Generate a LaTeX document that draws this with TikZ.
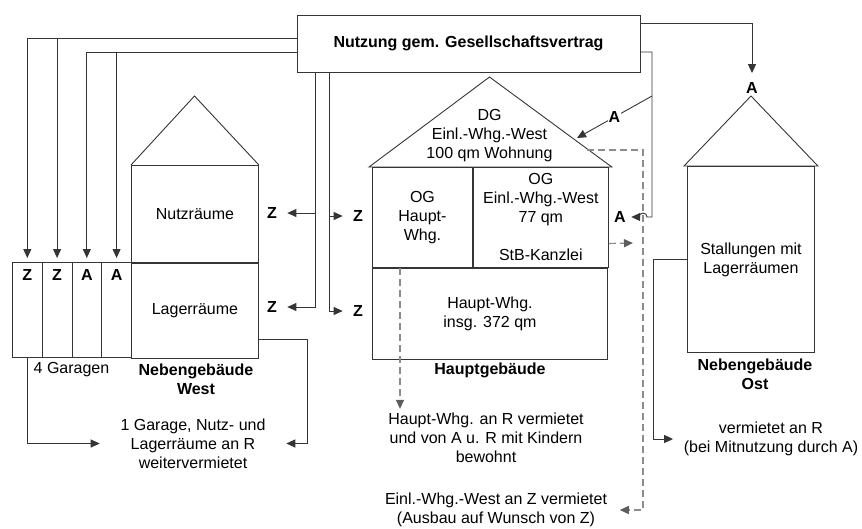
\documentclass[tikz,border=0pt]{standalone}
\usepackage{fontspec}
\setmainfont{Liberation Sans}
\usetikzlibrary{arrows.meta}
\definecolor{linie}{HTML}{353535}
\definecolor{strich}{HTML}{8C8C8C}
\newcommand\schrift{\fontsize{16}{19}\selectfont}

\begin{document}
\begin{tikzpicture}[x=1pt,y=-1pt,line width=0.9pt,font=\schrift,
  raum/.style={draw=linie,rectangle,inner sep=0pt,align=center},
  marke/.style={font=\schrift\bfseries,inner sep=2pt},
  pfeil/.style={draw=linie,-{Triangle[length=9pt,width=8pt]}},
  spfeil/.style={draw=strich,line width=1.2pt,dash pattern=on 7pt off 4pt,-{Triangle[length=9pt,width=8pt,color=linie!80]}}]
\useasboundingbox (0,0) rectangle (862,528);

% Vertrag box at the top
\node[raum,minimum width=343pt,minimum height=57pt,font=\schrift\bfseries] (vertrag) at (468.5,43.5) {Nutzung gem. Gesellschaftsvertrag};

% Four garages with their users
\foreach \i/\t in {1/Z,2/Z,3/A,4/A} {
  \node[raum,minimum width=29.75pt,minimum height=95pt,anchor=north west] (g\i) at ({12+(\i-1)*29.75},262) {};
  \node[marke] (gl\i) at ([yshift=-13pt]g\i.north) {\t};
}
\draw[pfeil] ([yshift=5.5pt]vertrag.west) -| ([yshift=4pt]g1.north);
\draw[pfeil] ([yshift=5.5pt]vertrag.west) -| ([yshift=4pt]g2.north);
\draw[pfeil] ([yshift=-8.5pt]vertrag.west) -| ([yshift=4pt]g3.north);
\draw[pfeil] ([yshift=-8.5pt]vertrag.west) -| ([yshift=4pt]g4.north);
\node (garagen) at (71.5,370) {4 Garagen};

% Nebengebaeude West
\node[raum,minimum width=127pt,minimum height=97pt,anchor=north west] (nutz) at (131,165) {Nutzräume};
\node[raum,minimum width=127pt,minimum height=95pt,anchor=north] (lager) at (nutz.south) {Lagerräume};
\draw[linie] (nutz.north west) -- (194.5,96) -- (nutz.north east);
\node[font=\schrift\bfseries,align=center] (westname) at (196,379.5) {Nebengebäude\\West};

% Untervermietung West
\node[align=center] (gvtext) at (193,443.5) {1 Garage, Nutz- und\\Lagerräume an R\\weitervermietet};
\draw[pfeil,shorten >=17pt] (g1.south) |- (gvtext);
\draw[pfeil,shorten >=17pt] ([yshift=-28.5pt]lager.east) -- ++(49,0) |- (gvtext);

% Z for Nutz-/Lagerraeume and Haupt-Whg.
\node[marke] (zn) at (272,213) {Z};
\node[marke] (zl) at (272,307) {Z};
\node[marke] (zo) at (358,216) {Z};
\node[marke] (zh) at (358,311) {Z};
\draw[pfeil,shorten >=8pt] ([xshift=-153.5pt]vertrag.south) |- (zn);
\draw[pfeil,shorten >=8pt] ([xshift=-153.5pt]vertrag.south) |- (zl);
\draw[pfeil,shorten >=8pt] ([xshift=-139.5pt]vertrag.south) |- (zo);
\draw[pfeil,shorten >=8pt] ([xshift=-139.5pt]vertrag.south) |- (zh);

% Hauptgebaeude
\node[raum,minimum width=100pt,minimum height=100pt,anchor=north west] (ogh) at (372,167) {OG\\Haupt-\\Whg.};
\node[raum,minimum width=135pt,minimum height=100pt,anchor=north west] (oge) at (ogh.north east) {OG\\Einl.-Whg.-West\\77 qm\\~\\StB-Kanzlei};
\node[raum,minimum width=235pt,minimum height=91pt,anchor=north west] (haupt) at (ogh.south west) {Haupt-Whg.\\insg. 372 qm};
\draw[linie] ([xshift=-3pt]ogh.north west) -- (489.5,77) -- ([xshift=3pt]oge.north east) -- cycle;
\node[align=center] (dg) at (489.5,136) {DG\\Einl.-Whg.-West\\100 qm Wohnung};
\node[font=\schrift\bfseries] (hauptname) at (490,370) {Hauptgebäude};

% Vermietung Hauptgebaeude (dashed)
\node[align=center] (hvtext) at (486,437.5) {Haupt-Whg. an R vermietet\\und von A u. R mit Kindern\\bewohnt};
\coordinate (hvstart) at ([xshift=28pt]haupt.north west);
\draw[spfeil] (hvstart) -- (hvstart |- hvtext.north);
\node[align=center] (ewtext) at (496,510) {Einl.-Whg.-West an Z vermietet\\(Ausbau auf Wunsch von Z)};
\coordinate (dgdach) at (587,150);
\draw[spfeil,shorten >=9pt] (dgdach) -- ++(56,0) |- (ewtext);
\coordinate (stbpfeil) at (633,243);
\draw[spfeil] ([yshift=-26pt]oge.east) -- (stbpfeil);

% A for DG and OG
\node[marke] (aog) at (620,217) {A};
\draw[pfeil,shorten >=3pt] ([yshift=-8.5pt]vertrag.east) -| (652,217) -- (647,217) arc[start angle=0,end angle=180,radius=4pt] -- (aog);
\coordinate (akreuz) at (652,96);
\coordinate (dgpfeil) at (577,138);
\draw[pfeil] (akreuz) -- node[marke,fill=white,inner sep=1pt] (adg) {A} (dgpfeil);

% Nebengebaeude Ost
\node[marke] (aost) at (752,88) {A};
\draw[pfeil,shorten >=7pt] ([yshift=20.5pt]vertrag.east) -| (aost);
\node[raum,minimum width=127pt,minimum height=186pt,anchor=north west] (ost) at (687,166) {Stallungen mit\\Lagerräumen};
\draw[linie] ([xshift=-3pt]ost.north west) -- (751,96) -- ([xshift=3pt]ost.north east) -- cycle;
\node[font=\schrift\bfseries,align=center] (ostname) at (755,374) {Nebengebäude\\Ost};
\node[align=center] (vmtext) at (771,439) {vermietet an R\\(bei Mitnutzung durch A)};
\draw[pfeil,shorten >=7pt] (ost.west) -- ++(-34,0) |- (vmtext);

\end{tikzpicture}
\end{document}
